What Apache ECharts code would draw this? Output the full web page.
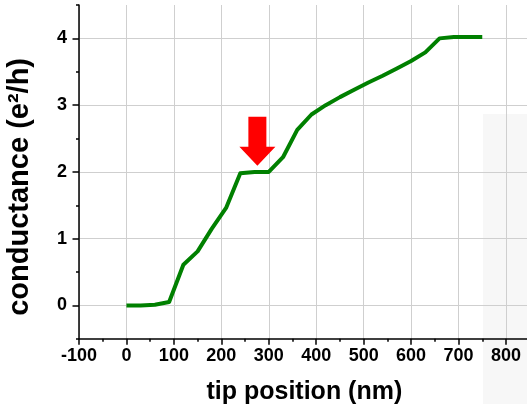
<!DOCTYPE html>
<html>
<head>
<meta charset="utf-8">
<script src="https://cdn.jsdelivr.net/npm/echarts@6/dist/echarts.min.js"></script>
<style>
html,body{margin:0;padding:0;background:#fff;}
#chart{width:527px;height:404px;}
</style>
</head>
<body>
<div id="chart"></div>
<script>
// ---- data ----
var tipPosition = [0, 30, 60, 90, 120, 150, 180, 210, 240, 270, 300, 330, 360, 390, 420, 450, 480, 510, 540, 570, 600, 630, 660, 690, 720, 750];
var conductance = [0, 0, 0.01, 0.05, 0.61, 0.81, 1.15, 1.46, 1.98, 2.0, 2.0, 2.22, 2.63, 2.86, 3.0, 3.12, 3.23, 3.34, 3.44, 3.55, 3.66, 3.79, 4.0, 4.02, 4.02, 4.02];
var xRange = [-100, 850];     // x axis extent, ticks every 100
var yRange = [-0.5, 4.5];     // y axis extent (half-unit minor ticks)
var yLabelRange = [0, 4];     // labelled integer ticks 0..4
var arrowAt = [276, 2.46];
var xTitle = 'tip position (nm)';
var yTitle = 'conductance (e\u00B2/h)';

var FONT = '"Liberation Sans", Arial, Helvetica, sans-serif';
var chart = echarts.init(document.getElementById('chart'), null, {renderer: 'canvas'});
var points = tipPosition.map(function (x, i) { return [x, conductance[i]]; });

// plot box in pixels
var G = {left: 79, top: 5, width: 450.7, height: 333.8};
var pxPerUnit = G.height / (yRange[1] - yRange[0]);

chart.setOption({
  animation: false,
  backgroundColor: '#ffffff',
  graphic: [{
    type: 'rect', left: 483, top: 114, z: -10,
    shape: {width: 44, height: 290},
    style: {fill: '#f7f7f7'}
  }],
  grid: [
    {left: G.left, top: G.top, width: G.width, height: G.height, containLabel: false, outerBoundsMode: 'none'},
    {left: G.left, top: G.top + (yRange[1] - yLabelRange[1]) * pxPerUnit, width: G.width,
     height: (yLabelRange[1] - yLabelRange[0]) * pxPerUnit, containLabel: false, outerBoundsMode: 'none'}
  ],
  xAxis: [{
    gridIndex: 0, type: 'value', min: xRange[0], max: xRange[1], interval: 100,
    name: xTitle, nameLocation: 'middle', nameGap: 41,
    nameTextStyle: {fontFamily: FONT, fontWeight: 'bold', fontSize: 25, color: '#000'},
    axisLine: {show: true, onZero: false, lineStyle: {color: '#000', width: 1.5}},
    axisTick: {show: true, length: 6, lineStyle: {color: '#000', width: 1.5}},
    minorTick: {show: true, splitNumber: 2, length: 3, lineStyle: {color: '#000', width: 1.5}},
    axisLabel: {fontFamily: FONT, fontWeight: 'bold', fontSize: 18, color: '#000', margin: 8,
      formatter: function (v) { return v % 100 === 0 ? String(v) : ''; }},
    splitLine: {show: true, lineStyle: {color: '#cfcfcf', width: 1}}
  }, {
    gridIndex: 1, type: 'value', min: xRange[0], max: xRange[1], show: false,
    splitLine: {show: false}
  }],
  yAxis: [{
    gridIndex: 0, type: 'value', min: yRange[0], max: yRange[1], interval: 1,
    axisLine: {show: true, onZero: false, lineStyle: {color: '#000', width: 1.5}},
    axisTick: {show: true, length: 3, lineStyle: {color: '#000', width: 1.5}},
    axisLabel: {show: false},
    splitLine: {show: false}
  }, {
    gridIndex: 1, type: 'value', min: yLabelRange[0], max: yLabelRange[1], interval: 1,
    name: yTitle, nameLocation: 'middle', nameGap: 45, nameRotate: 90,
    nameTextStyle: {fontFamily: FONT, fontWeight: 'bold', fontSize: 29, color: '#000', padding: [0, 30, 0, 0]},
    axisLine: {show: false, onZero: false},
    axisTick: {show: true, length: 6.5, lineStyle: {color: '#000', width: 1.5}},
    axisLabel: {fontFamily: FONT, fontWeight: 'bold', fontSize: 18, color: '#000', margin: 12},
    splitLine: {show: true, lineStyle: {color: '#cfcfcf', width: 1}}
  }],
  series: [{
    type: 'line',
    xAxisIndex: 0, yAxisIndex: 0,
    data: points,
    showSymbol: false,
    symbol: 'none',
    smooth: false,
    lineStyle: {color: '#008000', width: 4, join: 'round'},
    markPoint: {
      silent: true,
      symbol: 'path://M9,0 L27,0 L27,30 L36,30 L18,49 L0,30 L9,30 Z',
      symbolSize: [36, 49],
      symbolKeepAspect: false,
      itemStyle: {color: '#ff0000'},
      label: {show: false},
      data: [{coord: arrowAt}]
    }
  }]
});
</script>
</body>
</html>
